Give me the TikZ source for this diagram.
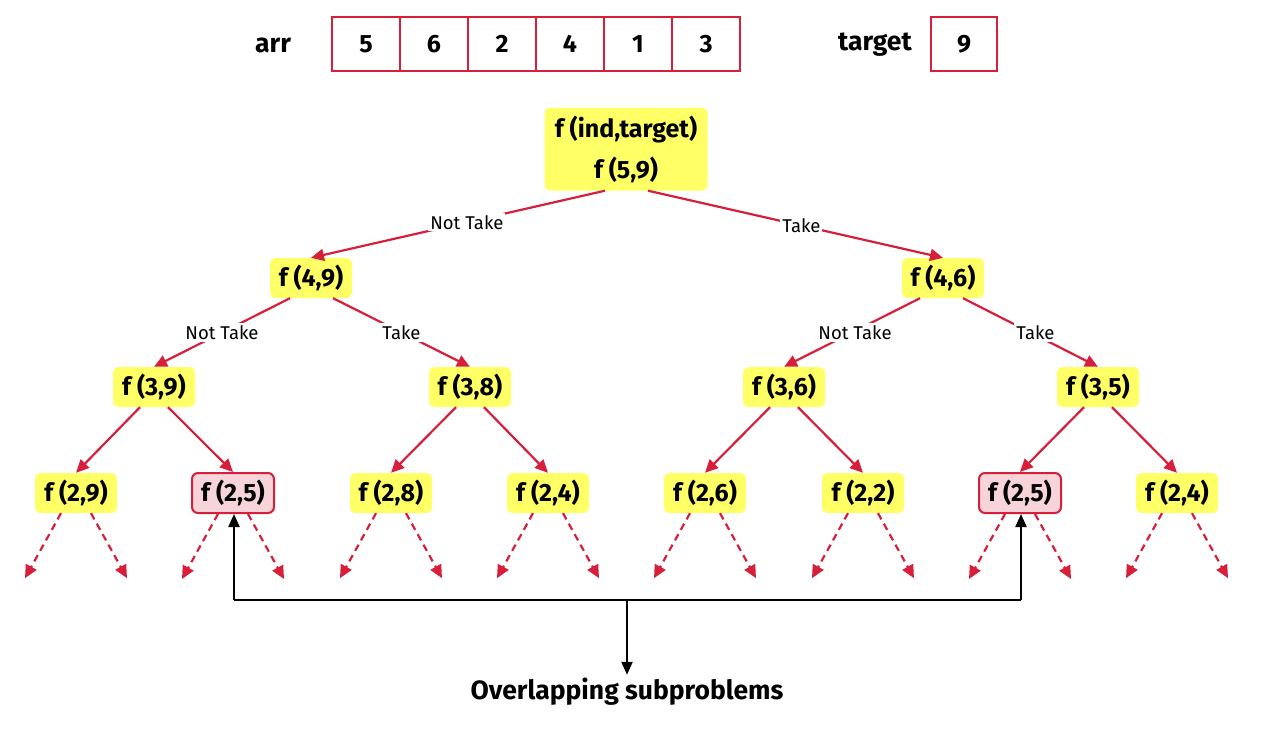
\documentclass[tikz,border=0pt]{standalone}
\usepackage{fontspec}
\setmainfont{Fira Sans}
\usetikzlibrary{arrows.meta,calc}
\definecolor{cred}{HTML}{D61F3A}
\definecolor{cyel}{HTML}{FFFF66}
\definecolor{cpink}{HTML}{F7D3DA}
\begin{document}
\begin{tikzpicture}[x=1pt,y=-1pt,
 fn/.style={fill=cyel, rounded corners=6pt, minimum width=82pt, minimum height=40pt, inner sep=0pt, font=\bfseries\fontsize{25}{30}\selectfont},
 fnp/.style={fn, fill=cpink, draw=cred, line width=2pt},
 ed/.style={draw=cred, line width=2.2pt, -{Triangle[length=13pt,width=12pt]}},
 dd/.style={ed, dash pattern=on 7pt off 5pt},
 lbl/.style={fill=white, inner sep=2pt, font=\fontsize{18.5}{22}\selectfont},
 cell/.style={draw=cred, line width=2.4pt, minimum width=68pt, minimum height=54pt, inner sep=0pt, font=\bfseries\fontsize{25}{30}\selectfont},
 bk/.style={line width=2.2pt, -{Triangle[length=13pt,width=11pt]}},
 ttl/.style={font=\bfseries\fontsize{26.5}{30}\selectfont}
]
\useasboundingbox (0,0) rectangle (1264,737);
% array
\node[ttl] (arr) at (273,45) {arr};
\node[cell] (a1) at (366,44) {5};
\node[cell] (a2) at (434,44) {6};
\node[cell] (a3) at (502,44) {2};
\node[cell] (a4) at (570,44) {4};
\node[cell] (a5) at (638,44) {1};
\node[cell] (a6) at (706,44) {3};
\node[ttl] (tg) at (875,45) {target};
\node[cell, minimum width=66pt] (tv) at (964,44) {9};
% tree
\node[fn, minimum width=163pt, minimum height=83pt, align=center] (root) at (626,149) {f (ind,target)\\[11pt]f (5,9)};
\node[fn] (n49) at (311,278) {f (4,9)};
\node[fn] (n46) at (943,278) {f (4,6)};
\node[fn] (n39) at (154,387) {f (3,9)};
\node[fn] (n38) at (470,387) {f (3,8)};
\node[fn] (n36) at (784,387) {f (3,6)};
\node[fn] (n35) at (1098,387) {f (3,5)};
\node[fn]  (l1) at (76,493) {f (2,9)};
\node[fnp] (l2) at (233,493) {f (2,5)};
\node[fn]  (l3) at (391,493) {f (2,8)};
\node[fn]  (l4) at (548,493) {f (2,4)};
\node[fn]  (l5) at (705,493) {f (2,6)};
\node[fn]  (l6) at (863,493) {f (2,2)};
\node[fnp] (l7) at (1020,493) {f (2,5)};
\node[fn]  (l8) at (1177,493) {f (2,4)};
% edges with labels
\draw[ed] ($(root.south)+(-21,0)$) -- node[lbl,pos=0.47]{Not Take} (n49.north);
\draw[ed] ($(root.south)+(22,0)$) -- node[lbl,pos=0.52]{Take} (n46.north);
\draw[ed] ($(n49.south)+(-21,0)$) -- node[lbl]{Not Take} (n39.north);
\draw[ed] ($(n49.south)+(22,0)$) -- node[lbl]{Take} (n38.north);
\draw[ed] ($(n46.south)+(-23,0)$) -- node[lbl,pos=0.5,xshift=3pt]{Not Take} (n36.north);
\draw[ed] ($(n46.south)+(20,0)$) -- node[lbl,pos=0.5,xshift=5pt]{Take} (n35.north);
% level 2 to 3
\foreach \p/\a/\b in {n39/l1/l2, n38/l3/l4, n36/l5/l6, n35/l7/l8}{
  \draw[ed] ($(\p.south)+(-14,0)$) -- (\a.north);
  \draw[ed] ($(\p.south)+(14,0)$) -- (\b.north);
}
% dashed leaves
\foreach \l in {l1,l2,l3,l4,l5,l6,l7,l8}{
  \coordinate (\l L) at ($(\l.south)+(-51,65)$);
  \coordinate (\l R) at ($(\l.south)+(51,65)$);
  \draw[dd] ($(\l.south)+(-15,0)$) -- (\l L);
  \draw[dd] ($(\l.south)+(15,0)$) -- (\l R);
}
% overlapping
\node[ttl] (ov) at (627,692) {Overlapping subproblems};
\coordinate (c1) at (234,600);
\coordinate (c2) at (1021,600);
\coordinate (cm) at (627,600);
\draw[line width=2.2pt] (c1) -- (c2);
\draw[bk] (c1) -- (l2.south -| c1);
\draw[bk] (c2) -- (l7.south -| c2);
\draw[bk] (cm) -- (ov.north);
\end{tikzpicture}
\end{document}
